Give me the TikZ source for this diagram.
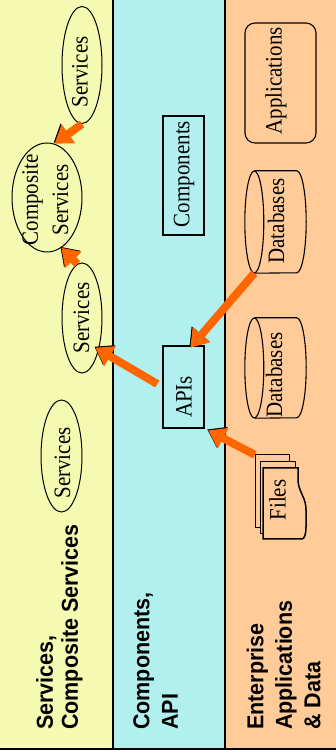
\documentclass[tikz,border=0pt]{standalone}
\usepackage{fontspec}
\setmainfont{Liberation Serif}
\newfontfamily\lblfont{Liberation Sans}
\usetikzlibrary{shapes.geometric,arrows.meta,calc}
\definecolor{pyellow}{RGB}{244,250,178}
\definecolor{pcyan}{RGB}{178,240,240}
\definecolor{ppeach}{RGB}{255,204,153}
\definecolor{arrorange}{RGB}{255,102,0}
\newcommand{\stx}[1]{\scalebox{1}[1.12]{#1}}
\newcommand{\slb}[1]{\scalebox{1}[1.07]{#1}}
\begin{document}
\begin{tikzpicture}[x=1pt,y=1pt,
  svc/.style={ellipse, draw=black, line width=1pt, inner sep=0pt},
  box/.style={rectangle, draw=black, line width=1.1pt, inner sep=0pt},
  area/.style={rectangle, inner sep=0pt},
  cyl/.style={draw=black, line width=1.1pt},
  page/.style={draw=black, fill=ppeach, line width=1pt},
  txt/.style={rotate=90, font=\fontsize{21pt}{27pt}\selectfont, inner sep=0pt, align=center},
  lbl/.style={rotate=90, font=\lblfont\bfseries\fontsize{21.5pt}{28.5pt}\selectfont, inner sep=0pt, align=left, anchor=north west},
  bigarrow/.style={draw=arrorange, line width=8pt, -{Triangle[width=22pt,length=17pt]},
    preaction={draw=black, transform canvas={shift={(-1pt,1pt)}}}}
]
\useasboundingbox (0,0) rectangle (336,752);
\fill[white] (0,0) rectangle (336,752);
\fill[pyellow] (0,3) rectangle (113,752);
\fill[pcyan] (113,3) rectangle (225,752);
\fill[ppeach] (225,3) rectangle (336,752);
\draw[line width=1.5pt] (113,3) -- (113,752) (225,3) -- (225,752);
\draw[line width=1.5pt] (0,3) -- (336,3);

% shapes
\node[svc, minimum width=40pt, minimum height=117pt] (svc1) at (82,687) {};
\node[svc, minimum width=70pt, minimum height=109pt] (comp) at (47,554.5) {};
\node[svc, minimum width=40pt, minimum height=110pt] (svc2) at (82,434) {};
\node[svc, minimum width=41pt, minimum height=112pt] (svc3) at (61.5,296) {};
\node[box, minimum width=41pt, minimum height=119pt] (compo) at (183.5,576.5) {};
\node[box, minimum width=41pt, minimum height=82pt] (apis) at (183.5,365) {};
\node[box, rounded corners=10pt, minimum width=71pt, minimum height=120pt] (apps) at (280.5,669) {};
\node[area, minimum width=61pt, minimum height=102pt] (db1) at (275.5,530) {};
\node[area, minimum width=61pt, minimum height=100pt] (db2) at (275.5,384) {};
\node[area, minimum width=52pt, minimum height=84pt] (files) at (281,255) {};

% cylinders
\draw[cyl] ([xshift=9.5pt]db1.west) ellipse [x radius=9.5pt, y radius=51pt];
\draw[cyl] ([xshift=9.5pt]db1.north west) -- ([xshift=-9.5pt]db1.north east)
  arc[start angle=90, end angle=-90, x radius=9.5pt, y radius=51pt] -- ([xshift=9.5pt]db1.south west);
\draw[cyl] ([xshift=9.5pt]db2.west) ellipse [x radius=9.5pt, y radius=50pt];
\draw[cyl] ([xshift=9.5pt]db2.north west) -- ([xshift=-9.5pt]db2.north east)
  arc[start angle=90, end angle=-90, x radius=9.5pt, y radius=50pt] -- ([xshift=9.5pt]db2.south west);

% file stack
\draw[page] (255,224) rectangle (289,297);
\draw[page] (260,218) rectangle (295,290);
\draw[page, line width=1.5pt] (263,284) -- (298,284) -- (298,270)
  .. controls (300,258) and (306,254) .. (306,242) -- (306,225)
  .. controls (306,217) and (304,213) .. (302,213) -- (263,213) -- cycle;

% texts
\node[txt] (svc1t) at (80,680) {\stx{Services}};
\node[txt] (compt) at (47,552) {\stx{\begin{tabular}{@{}c@{}}Composite\\Services\end{tabular}}};
\node[txt] (svc2t) at (81.5,434) {\stx{Services}};
\node[txt] (svc3t) at (62.5,289) {\stx{Services}};
\node[txt] (compot) at (184,578) {\stx{Components}};
\node[txt] (apist) at (184,355) {\stx{APIs}};
\node[txt] (appst) at (276,671) {\stx{Applications}};
\node[txt] (db1t) at (276,531) {\stx{Databases}};
\node[txt] (db2t) at (274,377) {\stx{Databases}};
\node[txt] (filest) at (277.5,252) {\stx{Files}};

% layer labels
\node[lbl] (l1) at (36,22) {\slb{Services,}\\[-3.5pt]\slb{Composite Services}};
\node[lbl] (l2) at (133,22) {\slb{Components,}\\\slb{API}};
\node[lbl] (l3) at (246.5,22) {\slb{Enterprise}\\\slb{Applications}\\\slb{\&~Data}};

% arrows
\draw[bigarrow] (svc1.south) -- (comp.82);
\draw[bigarrow] (svc2.95) -- (comp.-74);
\draw[bigarrow, shorten <=6pt, shorten >=-4pt] (apis.west) -- (svc2.-62);
\draw[bigarrow, shorten >=-3pt] ([xshift=9.5pt]db1.south west) -- (apis.78);
\draw[bigarrow, shorten >=4pt] (files.north west) -- (apis.south east);
\end{tikzpicture}
\end{document}
